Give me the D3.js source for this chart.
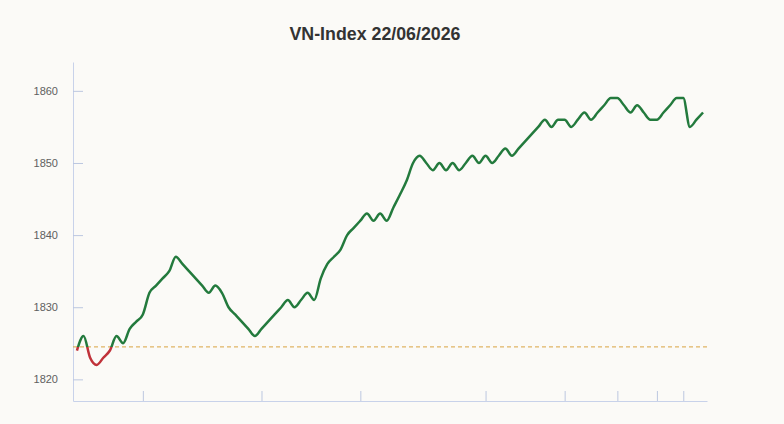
<!DOCTYPE html>
<html>
<head>
<meta charset="utf-8">
<script src="https://cdn.jsdelivr.net/npm/d3@7"></script>
<style>
	body { margin: 0; background: #fbfaf7; }
	#chart { width: 784px; height: 424px; }
</style>
</head>
<body>
<div id="chart"></div>
<script>
//Data
var titleText = "VN-Index 22/06/2026";
var refValue = 1824.5;
var yTicks = [1820, 1830, 1840, 1850, 1860];
var xTickIdx = [10, 28, 43, 62, 74, 82, 88, 92];
var points = [
	1824, 1826, 1823, 1822, 1823, 1824, 1826, 1825, 1827, 1828,
	1829, 1832, 1833, 1834, 1835, 1837, 1836, 1835, 1834, 1833,
	1832, 1833, 1832, 1830, 1829, 1828, 1827, 1826, 1827, 1828,
	1829, 1830, 1831, 1830, 1831, 1832, 1831, 1834, 1836, 1837,
	1838, 1840, 1841, 1842, 1843, 1842, 1843, 1842, 1843.8, 1845.6,
	1847.5, 1850, 1851, 1850, 1849, 1850, 1849, 1850, 1849, 1850,
	1851, 1850, 1851, 1850, 1851, 1852, 1851, 1852, 1853, 1854,
	1855, 1856, 1855, 1856, 1856, 1855, 1856, 1857, 1856, 1857,
	1858, 1859, 1859, 1858, 1857, 1858, 1857, 1856, 1856, 1857,
	1858, 1859, 1859, 1855, 1856, 1857
];

var width = 784, height = 424;
var plotLeft = 73, plotRight = 707, plotTop = 62, plotBottom = 401;

var svg = d3.select("#chart")
	.append("svg")
	.attr("width", width)
	.attr("height", height);

svg.append("rect")
	.attr("width", width)
	.attr("height", height)
	.style("fill", "#fbfaf7");

var x = d3.scaleLinear()
	.domain([-0.6, points.length - 0.4])
	.range([plotLeft, plotRight]);

var y = d3.scaleLinear()
	.domain([1817, 1864])
	.range([plotBottom, plotTop]);

//Title
svg.append("text")
	.attr("x", 375)
	.attr("y", 40)
	.attr("text-anchor", "middle")
	.attr("textLength", 171)
	.attr("lengthAdjust", "spacingAndGlyphs")
	.style("font-family", "'Liberation Sans', Arial, sans-serif")
	.style("font-size", "18px")
	.style("font-weight", "bold")
	.style("fill", "#333333")
	.text(titleText);

//Axes
var yAxis = d3.axisLeft(y)
	.tickValues(yTicks)
	.tickSize(-10)
	.tickSizeOuter(0)
	.tickPadding(15)
	.tickFormat(d3.format("d"));

var gy = svg.append("g")
	.attr("transform", "translate(" + plotLeft + ",0)")
	.call(yAxis);

var xAxis = d3.axisBottom(x)
	.tickValues(xTickIdx)
	.tickSize(-10)
	.tickSizeOuter(0)
	.tickFormat("");

var gx = svg.append("g")
	.attr("transform", "translate(0," + plotBottom + ")")
	.call(xAxis);

[gy, gx].forEach(function(g) {
	g.select(".domain").style("stroke", "#c8d2ea");
	g.selectAll(".tick line").style("stroke", "#bcc7e0");
});

gy.selectAll(".tick text")
	.style("font-family", "'Liberation Sans', Arial, sans-serif")
	.style("font-size", "11px")
	.style("fill", "#606060");

//Reference line (previous close)
svg.append("line")
	.attr("x1", plotLeft)
	.attr("x2", plotRight)
	.attr("y1", y(refValue))
	.attr("y2", y(refValue))
	.style("stroke", "#d9a441")
	.style("stroke-width", 1)
	.style("stroke-dasharray", "4,3");

//Clip above / below the reference
var defs = svg.append("defs");
defs.append("clipPath").attr("id", "above")
	.append("rect")
	.attr("x", 0).attr("y", 0)
	.attr("width", width).attr("height", y(refValue));
defs.append("clipPath").attr("id", "below")
	.append("rect")
	.attr("x", 0).attr("y", y(refValue))
	.attr("width", width).attr("height", height - y(refValue));

var line = d3.line()
	.x(function(d, i) {return x(i);})
	.y(function(d) {return y(d);})
	.curve(d3.curveMonotoneX);

svg.append("path")
	.datum(points)
	.attr("class", "priceUp")
	.attr("clip-path", "url(#above)")
	.attr("d", line)
	.style("fill", "none")
	.style("stroke", "#237a3d")
	.style("stroke-width", 2.5)
	.style("stroke-linejoin", "round");

svg.append("path")
	.datum(points)
	.attr("class", "priceDown")
	.attr("clip-path", "url(#below)")
	.attr("d", line)
	.style("fill", "none")
	.style("stroke", "#c0323a")
	.style("stroke-width", 2.5)
	.style("stroke-linejoin", "round");
</script>
</body>
</html>
